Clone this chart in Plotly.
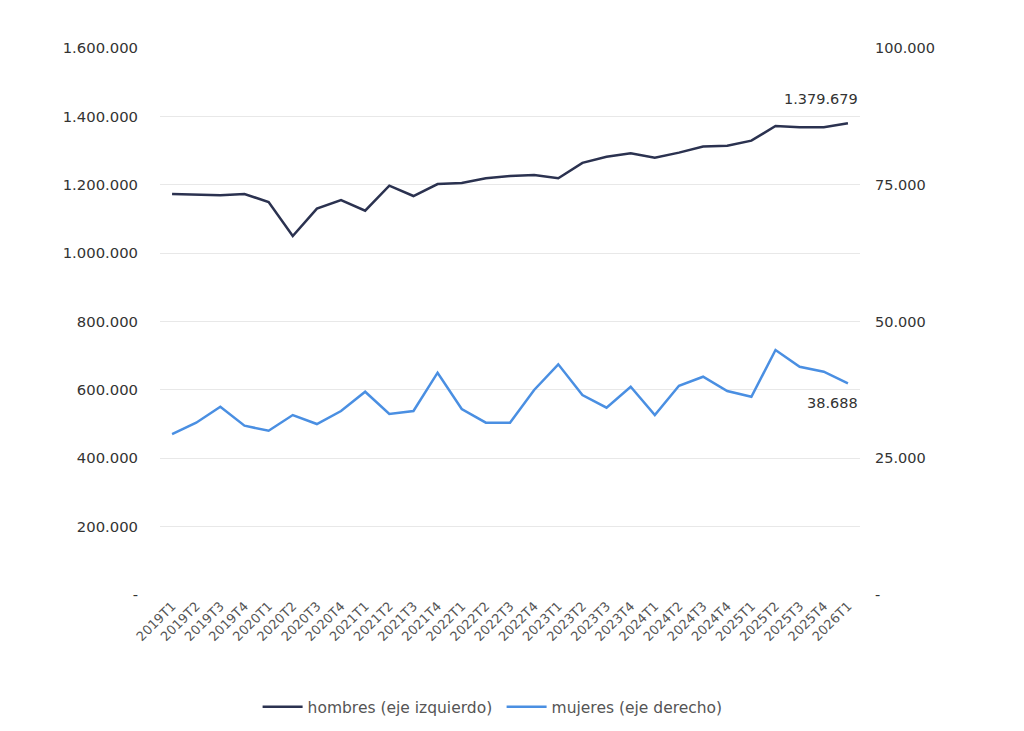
import plotly.graph_objects as go

quarters = ["2019T1", "2019T2", "2019T3", "2019T4", "2020T1", "2020T2", "2020T3", "2020T4",
            "2021T1", "2021T2", "2021T3", "2021T4", "2022T1", "2022T2", "2022T3", "2022T4",
            "2023T1", "2023T2", "2023T3", "2023T4", "2024T1", "2024T2", "2024T3", "2024T4",
            "2025T1", "2025T2", "2025T3", "2025T4", "2026T1"]

hombres = [1172900, 1172000, 1169000, 1172900, 1149500, 1050100, 1130000, 1155400,
           1124100, 1197300, 1167100, 1202000, 1205000, 1218800, 1225600, 1228500,
           1218800, 1264000, 1282000, 1292000, 1279000, 1294000, 1312000, 1314200,
           1328900, 1372000, 1368000, 1368000, 1379679]

mujeres = [29430, 31500, 34420, 30950, 30030, 32900, 31260, 33635,
           37160, 33090, 33635, 40640, 34000, 31500, 31500, 37475,
           42170, 36560, 34240, 38080, 32900, 38260, 39905, 37290,
           36250, 44790, 41735, 40820, 38688]

left_ticks = [0, 200000, 400000, 600000, 800000, 1000000, 1200000, 1400000, 1600000]
left_labels = ["-", "200.000", "400.000", "600.000", "800.000", "1.000.000", "1.200.000", "1.400.000", "1.600.000"]
right_ticks = [0, 25000, 50000, 75000, 100000]
right_labels = ["-", "25.000", "50.000", "75.000", "100.000"]

c_h = "#2b3250"
c_m = "#4a8fe2"
FONT = "DejaVu Sans, Liberation Sans, sans-serif"

fig = go.Figure()
fig.add_trace(go.Scatter(x=quarters, y=hombres, mode="lines", name="hombres (eje izquierdo)",
                         line=dict(color=c_h, width=2.5), yaxis="y"))
fig.add_trace(go.Scatter(x=quarters, y=mujeres, mode="lines", name="mujeres (eje derecho)",
                         line=dict(color=c_m, width=2.5), yaxis="y2"))

fig.add_annotation(x=quarters[-1], y=hombres[-1], yref="y", text="1.379.679", showarrow=False,
                   xanchor="right", yanchor="bottom", xshift=12, yshift=14,
                   font=dict(family=FONT, size=14.5, color="#333333"))
fig.add_annotation(x=quarters[-1], y=mujeres[-1], yref="y2", text="38.688", showarrow=False,
                   xanchor="right", yanchor="top", xshift=12, yshift=-10,
                   font=dict(family=FONT, size=14.5, color="#333333"))

fig.update_layout(
    width=1024, height=731,
    margin=dict(l=152, r=172, t=40, b=144),
    paper_bgcolor="white", plot_bgcolor="white",
    font=dict(family=FONT, color="#333333", size=14),
    showlegend=True,
    legend=dict(orientation="h", x=0.488, xanchor="center", y=-0.205, yanchor="middle",
                font=dict(family=FONT, size=15.5, color="#555555"), itemwidth=40,
                entrywidth=189),
    xaxis=dict(type="category", range=[-0.5, 28.5], tickangle=-45, showgrid=False,
               showline=False, ticks="", tickfont=dict(family=FONT, size=13, color="#555555")),
    yaxis=dict(range=[0, 1600000], tickvals=left_ticks, ticktext=left_labels,
               showgrid=True, gridcolor="#e8e8e8", gridwidth=1, zeroline=False,
               showline=False, ticks="", tickfont=dict(family=FONT, size=14.8, color="#333333"),
               ticklabelstandoff=21),
    yaxis2=dict(range=[0, 100000], tickvals=right_ticks, ticktext=right_labels,
                overlaying="y", side="right", showgrid=False, zeroline=False,
                showline=False, ticks="", tickfont=dict(family=FONT, size=14.5, color="#333333"),
                ticklabelstandoff=14),
)

fig.write_html("out.html")
